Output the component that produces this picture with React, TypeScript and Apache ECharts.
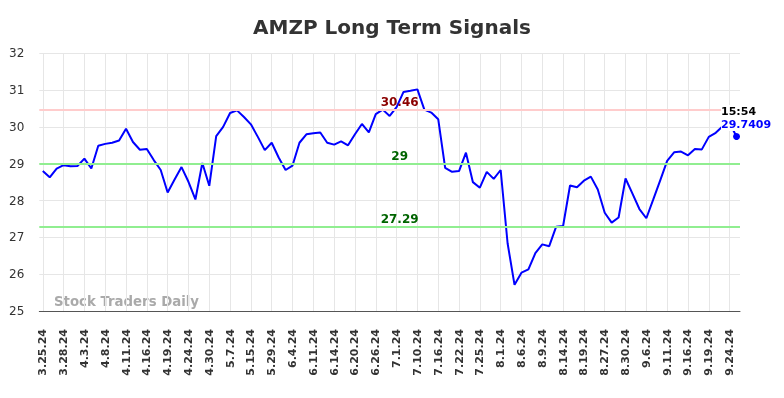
import React, { useEffect, useRef } from 'react';
import * as echarts from 'echarts';

const FONT = 'DejaVu Sans';

const tickLabels = [
  '3.25.24', '3.28.24', '4.3.24', '4.8.24', '4.11.24', '4.16.24', '4.19.24', '4.24.24',
  '4.30.24', '5.7.24', '5.15.24', '5.29.24', '6.4.24', '6.11.24', '6.14.24', '6.20.24',
  '6.26.24', '7.1.24', '7.10.24', '7.16.24', '7.22.24', '7.25.24', '8.1.24', '8.6.24',
  '8.9.24', '8.14.24', '8.19.24', '8.27.24', '8.30.24', '9.6.24', '9.11.24', '9.16.24',
  '9.19.24', '9.24.24',
];

const prices = [
  28.80, 28.63, 28.87, 28.96, 28.93, 28.94, 29.14, 28.87, 29.49, 29.54,
  29.57, 29.63, 29.95, 29.59, 29.38, 29.40, 29.10, 28.83, 28.22, 28.57,
  28.91, 28.51, 28.03, 29.02, 28.40, 29.75, 30.00, 30.38, 30.45, 30.27,
  30.07, 29.73, 29.37, 29.57, 29.17, 28.83, 28.95, 29.57, 29.80, 29.83,
  29.85, 29.57, 29.52, 29.61, 29.50, 29.80, 30.08, 29.85, 30.35, 30.47,
  30.30, 30.54, 30.95, 30.98, 31.02, 30.47, 30.39, 30.21, 28.89, 28.78,
  28.80, 29.30, 28.50, 28.35, 28.78, 28.59, 28.83, 26.84, 25.71, 26.04,
  26.13, 26.57, 26.81, 26.76, 27.29, 27.31, 28.41, 28.36, 28.54, 28.65,
  28.30, 27.67, 27.40, 27.54, 28.60, 28.19, 27.77, 27.52, 28.03, 28.55,
  29.08, 29.31, 29.33, 29.23, 29.40, 29.39, 29.73, 29.84, 30.02, 30.10,
  29.7409,
];

const lastTime = '15:54';
const resistance = 30.46;
const middle = 29;
const support = 27.29;

export default function App() {
  const ref = useRef<HTMLDivElement>(null);

  useEffect(() => {
    if (!ref.current) return;
    const chart = echarts.init(ref.current, null, { renderer: 'svg' });
    const categories = prices.map((_, i) =>
      i % 3 === 0 && tickLabels[i / 3] ? tickLabels[i / 3] : ''
    );
    const lastIndex = prices.length - 1;
    const lastValue = prices[lastIndex];

    const refLabel = (color: string) => ({
      show: true,
      position: 'insideMiddleTop',
      distance: 2,
      color,
      fontFamily: FONT,
      fontSize: 12,
      fontWeight: 'bold',
      padding: [0, 0, 0, 20],
    });

    chart.setOption({
      animation: false,
      title: {
        text: 'AMZP Long Term Signals',
        left: 'center',
        top: 12,
        textStyle: { fontFamily: FONT, fontSize: 20, fontWeight: 'bold', color: '#333' },
      },
      grid: { left: 39.3, right: 44, top: 53.3, bottom: 87 },
      xAxis: {
        type: 'category',
        data: categories,
        boundaryGap: true,
        axisLine: { lineStyle: { color: '#555', width: 1 } },
        axisTick: { show: false },
        axisLabel: {
          interval: 2,
          rotate: 90,
          margin: 18,
          fontFamily: FONT,
          fontSize: 11,
          fontWeight: 'bold',
          color: '#333',
        },
        splitLine: {
          show: true,
          interval: 2,
          alignWithLabel: true,
          lineStyle: { color: '#e6e6e6', width: 1 },
        },
      },
      yAxis: {
        type: 'value',
        min: 25,
        max: 32,
        interval: 1,
        axisLine: { show: false },
        axisTick: { show: false },
        axisLabel: { margin: 15, fontFamily: FONT, fontSize: 12, color: '#333' },
        splitLine: { lineStyle: { color: '#e6e6e6', width: 1 } },
      },
      graphic: [
        {
          type: 'text',
          left: 54,
          top: 295,
          style: { text: 'Stock Traders Daily', fill: '#aaa', font: `bold 13.3px "${FONT}"` },
        },
      ],
      series: [
        {
          type: 'line',
          data: [],
          z: 1,
          markLine: {
            silent: true,
            symbol: ['none', 'none'],
            data: [
              {
                yAxis: resistance,
                lineStyle: { color: '#ffcccc', width: 2, type: 'solid' },
                label: { ...refLabel('#8b0000'), formatter: String(resistance) },
              },
              {
                yAxis: middle,
                lineStyle: { color: '#90ee90', width: 2, type: 'solid' },
                label: { ...refLabel('#006400'), formatter: String(middle) },
              },
              {
                yAxis: support,
                lineStyle: { color: '#90ee90', width: 2, type: 'solid' },
                label: { ...refLabel('#006400'), formatter: String(support) },
              },
            ],
          },
        },
        {
          type: 'line',
          data: prices,
          z: 3,
          showSymbol: false,
          lineStyle: { color: '#0000ff', width: 2 },
          itemStyle: { color: '#0000ff' },
          markPoint: {
            symbol: 'circle',
            symbolSize: 7,
            itemStyle: { color: '#0000ff' },
            data: [{ coord: [lastIndex, lastValue] }],
            label: {
              show: true,
              position: [-12, -28],
              align: 'left',
              verticalAlign: 'top',
              backgroundColor: '#fff',
              formatter: `{t|${lastTime}}\n{v|${String(lastValue)}}`,
              rich: {
                t: { color: '#000', fontWeight: 'bold', fontSize: 11, lineHeight: 13, fontFamily: FONT },
                v: { color: '#0000ff', fontWeight: 'bold', fontSize: 11, lineHeight: 13, fontFamily: FONT },
              },
            },
          },
        },
      ],
    });

    return () => chart.dispose();
  }, []);

  return (
    <div
      ref={ref}
      style={{ position: 'fixed', left: 0, top: 0, width: 784, height: 398 }}
    />
  );
}
